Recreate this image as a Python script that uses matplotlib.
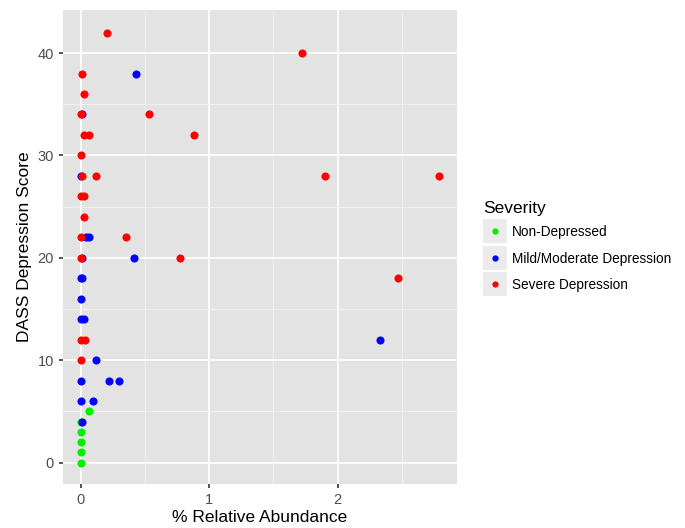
import matplotlib
matplotlib.use("Agg")
import matplotlib.pyplot as plt
from matplotlib.lines import Line2D
from matplotlib.legend_handler import HandlerTuple

plt.rcParams['font.family'] = ['Liberation Sans', 'DejaVu Sans']

# Non-Depressed
verde_x = [0.0, 0.0, 0.0, 0.0, 0.0, 0.06]
verde_y = [0, 1, 2, 3, 4, 5]

# Mild/Moderate Depression
azul_x = [0.43, 0.01, 0.0, 0.04, 0.06, 0.01, 0.41, 0.0, 0.01, 0.0, 0.0, 0.02,
          2.33, 0.12, 0.0, 0.22, 0.30, 0.0, 0.09, 0.01]
azul_y = [38, 34, 28, 22, 22, 20, 20, 18, 18, 16, 14, 14,
          12, 10, 8, 8, 8, 6, 6, 4]

# Severe Depression
verm_x = [0.20, 1.72, 0.01, 0.02, 0.0, 0.53, 0.02, 0.06, 0.88, 0.0, 0.01, 0.12,
          1.90, 2.79, 0.0, 0.02, 0.02, 0.0, 0.35, 0.0, 0.77, 2.47, 0.0, 0.03, 0.0]
verm_y = [42, 40, 38, 36, 34, 34, 32, 32, 32, 30, 28, 28,
          28, 28, 26, 26, 24, 22, 22, 20, 20, 18, 12, 12, 10]

nomes = ["Non-Depressed", "Mild/Moderate Depression", "Severe Depression"]
cores = ["#00ee00", "#0000ff", "#ff0000"]

fig = plt.figure(figsize=(6.85, 5.28), dpi=100)
ax = fig.add_axes([0.092, 0.083, 0.575, 0.898])
ax.set_facecolor("#e3e3e3")

# grade estilo ggplot
for v in [0.5, 1.5, 2.5]:
    ax.axvline(v, color="#f2f2f2", lw=0.6, zorder=0)
for v in [0, 1, 2]:
    ax.axvline(v, color="white", lw=1.2, zorder=0)
for v in [5, 15, 25, 35]:
    ax.axhline(v, color="#f2f2f2", lw=0.6, zorder=0)
for v in [0, 10, 20, 30, 40]:
    ax.axhline(v, color="white", lw=1.2, zorder=0)

ax.scatter(verde_x, verde_y, s=34, color=cores[0], zorder=3, linewidths=0)
ax.scatter(azul_x, azul_y, s=34, color=cores[1], zorder=3, linewidths=0)
ax.scatter(verm_x, verm_y, s=34, color=cores[2], zorder=3, linewidths=0)

ax.set_xlim(-0.14, 2.93)
ax.set_ylim(-2.1, 44.2)
ax.set_xticks([0, 1, 2])
ax.set_yticks([0, 10, 20, 30, 40])
for s in ax.spines.values():
    s.set_visible(False)
ax.tick_params(colors="#333333", labelcolor="#4d4d4d", labelsize=10.5, length=3, width=1.2)

ax.set_xlabel("% Relative Abundance", fontsize=12.5, labelpad=2)
ax.set_ylabel("DASS Depression Score", fontsize=12.5)

# legenda com caixinhas cinza
handles = []
for c in cores:
    caixa = Line2D([], [], marker="s", color="#ebebeb", ls="", markersize=17, markeredgewidth=0)
    ponto = Line2D([], [], marker="o", color=c, ls="", markersize=4.5, markeredgewidth=0)
    handles.append((caixa, ponto))

leg = ax.legend(handles, nomes, title="Severity", loc="upper left",
                bbox_to_anchor=(1.066, 0.597), frameon=False, fontsize=9.8,
                title_fontsize=12.5, handler_map={tuple: HandlerTuple(ndivide=1, pad=0)},
                handlelength=1.75, handleheight=0.7, handletextpad=0.4,
                labelspacing=0.92, borderaxespad=0, borderpad=0)
leg._legend_box.align = "left"
leg._legend_box.sep = 6.5

plt.savefig("out.png", dpi=100)
